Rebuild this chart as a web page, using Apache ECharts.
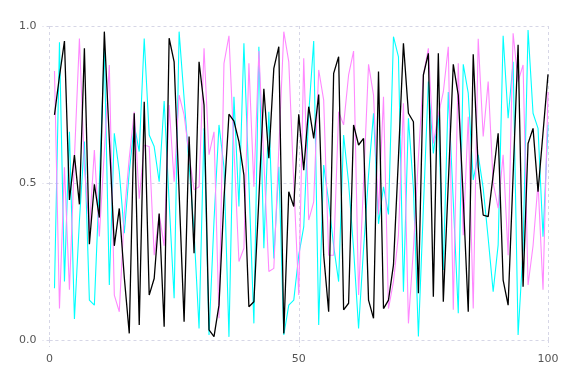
<!DOCTYPE html>
<html>
<head>
<meta charset="utf-8">
<script src="https://cdn.jsdelivr.net/npm/echarts@6/dist/echarts.min.js"></script>
<style>html,body{margin:0;padding:0;background:#fff}#c{width:576px;height:384px}</style>
</head>
<body>
<div id="c"></div>
<script>
const xTicks = [0, 50, 100];
const yTicks = [0.0, 0.5, 1.0];
const blackValues = [0.717,0.84,0.952,0.446,0.589,0.432,0.929,0.305,0.496,0.39,
0.982,0.64,0.30,0.419,0.2,0.021,0.722,0.048,0.759,0.143,
0.196,0.403,0.042,0.961,0.886,0.47,0.058,0.648,0.276,0.886,
0.748,0.032,0.011,0.111,0.45,0.719,0.697,0.632,0.525,0.106,
0.122,0.45,0.80,0.579,0.865,0.934,0.021,0.472,0.425,0.719,
0.541,0.743,0.642,0.782,0.271,0.09,0.849,0.902,0.096,0.117,
0.685,0.621,0.642,0.127,0.069,0.855,0.10,0.127,0.239,0.58,
0.945,0.722,0.695,0.149,0.844,0.913,0.138,0.913,0.122,0.5,
0.878,0.78,0.45,0.09,0.91,0.55,0.398,0.393,0.525,0.658,
0.191,0.111,0.525,0.94,0.17,0.626,0.674,0.472,0.66,0.846];
const cyanValues = [0.165,0.948,0.186,0.663,0.067,0.38,0.632,0.127,0.111,0.5,
0.93,0.175,0.658,0.536,0.34,0.536,0.685,0.60,0.96,0.653,
0.616,0.504,0.761,0.44,0.133,0.982,0.77,0.557,0.345,0.037,
0.674,0.016,0.38,0.685,0.55,0.01,0.775,0.425,0.945,0.5,
0.053,0.934,0.292,0.727,0.26,0.552,0.016,0.111,0.127,0.27,
0.36,0.72,0.952,0.048,0.557,0.44,0.30,0.186,0.653,0.50,
0.29,0.037,0.29,0.525,0.722,0.37,0.488,0.40,0.966,0.902,
0.154,0.706,0.483,0.011,0.42,0.823,0.594,0.717,0.223,0.79,
0.44,0.085,0.878,0.786,0.51,0.59,0.483,0.324,0.154,0.303,
0.969,0.706,0.886,0.016,0.29,0.987,0.722,0.674,0.329,0.685];
const magentaValues = [0.857,0.10,0.55,0.16,0.58,0.96,0.55,0.35,0.605,0.33,
0.6,0.876,0.143,0.09,0.40,0.58,0.727,0.45,0.62,0.616,
0.27,0.40,0.3,0.748,0.504,0.78,0.717,0.59,0.478,0.488,
0.929,0.59,0.663,0.069,0.881,0.969,0.61,0.25,0.292,0.881,
0.488,0.92,0.57,0.218,0.228,0.61,0.982,0.886,0.5,0.143,
0.897,0.382,0.44,0.86,0.764,0.27,0.27,0.727,0.685,0.844,
0.92,0.143,0.5,0.878,0.78,0.40,0.775,0.10,0.186,0.334,
0.754,0.053,0.29,0.58,0.844,0.929,0.626,0.717,0.79,0.934,
0.096,0.881,0.334,0.711,0.10,0.959,0.648,0.823,0.50,0.42,
0.59,0.27,0.977,0.823,0.876,0.175,0.30,0.50,0.16,0.79];

const pairs = vals => vals.map((v, i) => [i + 1, v]);
const gridColor = '#d6d6e6';
const dash = [3, 3];
const chart = echarts.init(document.getElementById('c'), null, {renderer: 'canvas'});
const xMin = xTicks[0], xMax = xTicks[xTicks.length - 1], xInt = xTicks[1] - xTicks[0];
const yMin = yTicks[0], yMax = yTicks[yTicks.length - 1], yInt = yTicks[1] - yTicks[0];
const tickStyle = {show: true, length: 7, lineStyle: {color: gridColor, type: dash, width: 1}};
chart.setOption({
  animation: false,
  backgroundColor: '#ffffff',
  grid: {left: 49.5, right: 28, top: 26, bottom: 44, containLabel: false},
  xAxis: [{
    type: 'value', min: xMin, max: xMax, interval: xInt,
    axisLine: {show: false}, axisTick: tickStyle,
    axisLabel: {color: '#555', fontFamily: 'DejaVu Sans', fontSize: 11, margin: 14},
    splitLine: {show: true, lineStyle: {color: gridColor, type: dash, width: 1}}
  }, {
    type: 'value', position: 'top', min: xMin, max: xMax, interval: xInt,
    axisLine: {show: false}, axisTick: tickStyle, axisLabel: {show: false}, splitLine: {show: false}
  }],
  yAxis: [{
    type: 'value', min: yMin, max: yMax, interval: yInt,
    axisLine: {show: false}, axisTick: tickStyle,
    axisLabel: {color: '#555', fontFamily: 'DejaVu Sans', fontSize: 11, margin: 13,
      formatter: v => v.toFixed(1)},
    splitLine: {show: true, lineStyle: {color: gridColor, type: dash, width: 1}}
  }, {
    type: 'value', position: 'right', min: yMin, max: yMax, interval: yInt,
    axisLine: {show: false}, axisTick: tickStyle, axisLabel: {show: false}, splitLine: {show: false}
  }],
  series: [
    {type: 'line', data: pairs(cyanValues), showSymbol: false, lineStyle: {color: '#00ffff', width: 1.1}, z: 2},
    {type: 'line', data: pairs(magentaValues), showSymbol: false, lineStyle: {color: '#ff88ff', width: 1.1}, z: 3},
    {type: 'line', data: pairs(blackValues), showSymbol: false, lineStyle: {color: '#000000', width: 1.3}, z: 4}
  ]
});
</script>
</body>
</html>
